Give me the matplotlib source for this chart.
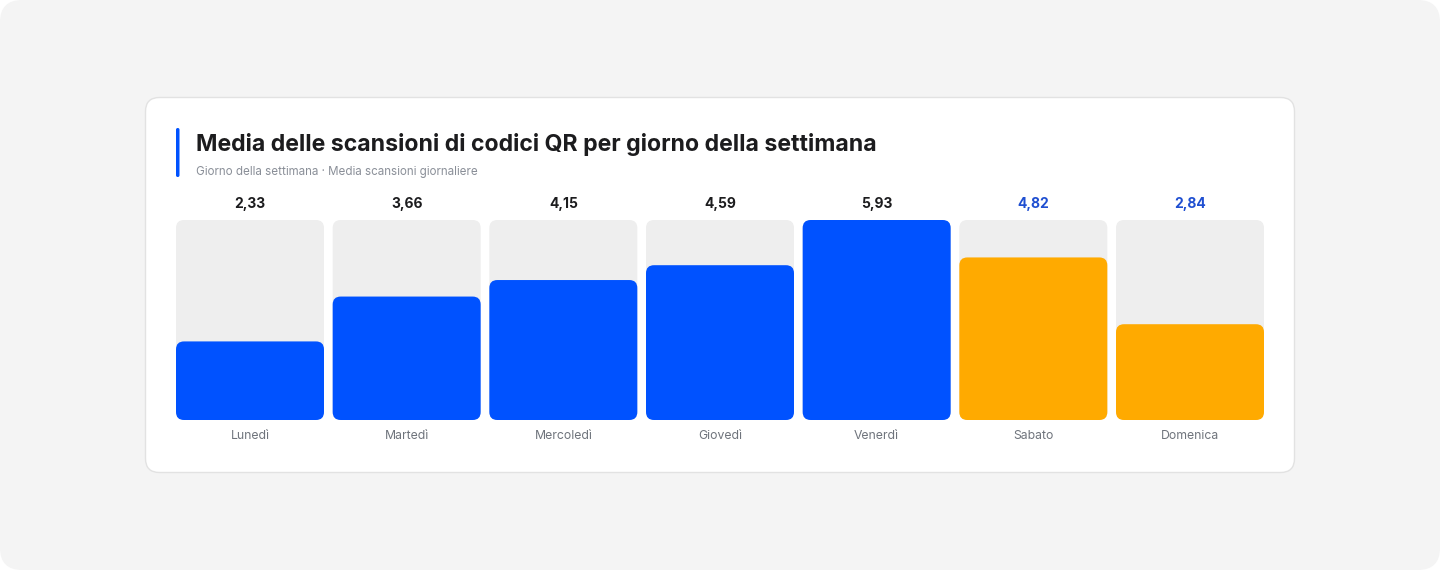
import matplotlib
matplotlib.use("Agg")
import matplotlib.pyplot as plt
from matplotlib.patches import FancyBboxPatch

plt.rcParams['font.family'] = ['Inter', 'DejaVu Sans']

# data
days = ["Lunedì", "Martedì", "Mercoledì", "Giovedì", "Venerdì", "Sabato", "Domenica"]
scans = [2.33, 3.66, 4.15, 4.59, 5.93, 4.82, 2.84]
weekend = [False, False, False, False, False, True, True]

title = "Media delle scansioni di codici QR per giorno della settimana"
subtitle = "Giorno della settimana · Media scansioni giornaliere"

BLUE = "#0052ff"
ORANGE = "#ffaa00"
TRACK = "#eeeeee"
W, H = 1440, 570

fig = plt.figure(figsize=(W / 100, H / 100), dpi=100)
fig.patch.set_facecolor("white")

# decoration layer in pixel units
bg = fig.add_axes([0, 0, 1, 1])
bg.set_xlim(0, W)
bg.set_ylim(H, 0)
bg.axis("off")
bg.add_patch(FancyBboxPatch((0, 0), W, H, boxstyle="round,pad=0,rounding_size=22",
                            fc="#f4f4f4", ec="none"))
bg.add_patch(FancyBboxPatch((145.5, 97.5), 1149, 375, boxstyle="round,pad=0,rounding_size=14",
                            fc="white", ec="#e2e2e2", lw=1))
bg.add_patch(FancyBboxPatch((176, 128), 3.5, 49, boxstyle="round,pad=0,rounding_size=1.7",
                            fc=BLUE, ec="none"))
bg.text(196, 145, title, fontsize=16.6, fontweight="bold", color="#1c1c1e", va="center")
bg.text(196, 172, subtitle, fontsize=8.35, color="#8a8f98", va="center")

# bar area: 176..1264 px wide, 220..420 px tall
left, right, top, bottom = 176, 1264, 220, 420
ax = fig.add_axes([left / W, 1 - bottom / H, (right - left) / W, (bottom - top) / H])
ax.axis("off")
step = (right - left + 8.67) / 7
bw = 148 / step
vmax = max(scans)
ax.set_xlim(-bw / 2, len(days) - 1 + bw / 2)
ax.set_ylim(0, vmax)

ppx_x = (right - left) / (len(days) - 1 + bw)
ppx_y = (bottom - top) / vmax
aspect = ppx_x / ppx_y
r = 8 / ppx_x

for i, (d, v, we) in enumerate(zip(days, scans, weekend)):
    ax.add_patch(FancyBboxPatch((i - bw / 2, 0), bw, vmax,
                                boxstyle=f"round,pad=0,rounding_size={r}",
                                mutation_aspect=aspect, fc=TRACK, ec="none"))
    ax.add_patch(FancyBboxPatch((i - bw / 2, 0), bw, v,
                                boxstyle=f"round,pad=0,rounding_size={r}",
                                mutation_aspect=aspect, fc=ORANGE if we else BLUE, ec="none"))
    ax.annotate(f"{v:.2f}".replace(".", ","), (i, vmax), xytext=(0, 16), textcoords="offset pixels",
                ha="center", va="center", fontsize=10, fontweight="bold",
                color="#1f4fd1" if we else "#1c1c1e", annotation_clip=False)
    ax.annotate(d, (i, 0), xytext=(0, -16), textcoords="offset pixels",
                ha="center", va="center", fontsize=8.8, color="#6f747c", annotation_clip=False)

fig.savefig("out.png", dpi=100, facecolor=fig.get_facecolor())
